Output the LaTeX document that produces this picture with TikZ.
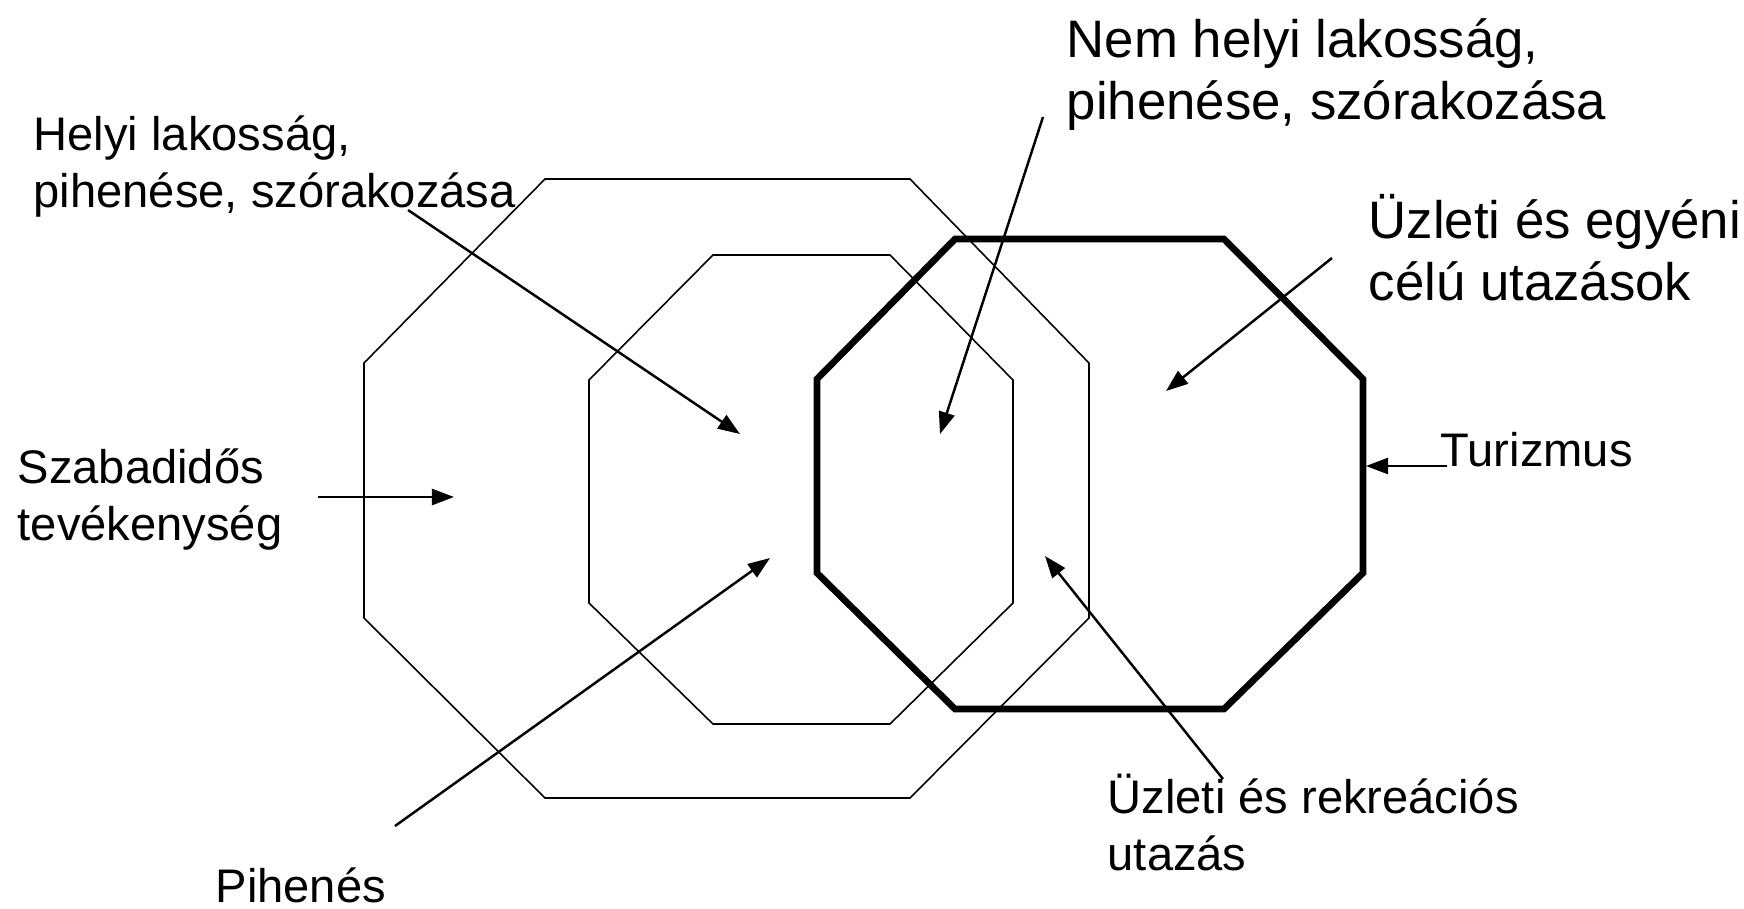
\documentclass[tikz,border=0pt]{standalone}
\usepackage{fontspec}
\setmainfont{Liberation Sans}
\usetikzlibrary{arrows.meta}

\begin{document}
\begin{tikzpicture}[x=0.01cm, y=-0.01cm, >={Triangle[length=0.22cm,width=0.16cm]},
  thin line/.style={line width=0.45pt},
  arrow line/.style={->, line width=0.7pt},
  big label/.style={anchor=base west, inner sep=0pt, align=left,
    font=\fontsize{15pt}{17.6pt}\selectfont},
  small label/.style={anchor=base west, inner sep=0pt, align=left,
    font=\fontsize{13.4pt}{16.2pt}\selectfont}]
\useasboundingbox (0,0) rectangle (1744,908);

% outer octagon (leisure)
\draw[thin line] (545,179) -- (910,179) -- (1089,363) -- (1089,618) -- (910,798)
  -- (545,798) -- (364,618) -- (364,363) -- cycle;

% inner octagon (recreation)
\draw[thin line] (713,255) -- (890,255) -- (1013,380) -- (1013,603) -- (890,724)
  -- (713,724) -- (589,603) -- (589,380) -- cycle;

% tourism, thick
\draw[line width=1.9pt] (955,239) -- (1224,239) -- (1363,379) -- (1363,573) -- (1224,709)
  -- (955,709) -- (817,573) -- (817,379) -- cycle;

% ---- labels (base = last line) ----
\node[small label] (helyi) at (33,207) {Helyi lakosság,\\pihenése, szórakozása};
\node[big label] (nemhelyi) at (1066,119) {Nem helyi lakosság,\\pihenése, szórakozása};
\node[big label] (egyeni) at (1368,300) {Üzleti és egyéni\\célú utazások};
\node[small label] (turizmus) at (1440,466) {Turizmus};
\node[small label] (szabadido) at (17,540) {Szabadidős\\tevékenység};
\node[small label] (rekreacios) at (1107,870) {Üzleti és rekreációs\\utazás};
\node[small label] (pihenes) at (215,902) {Pihenés};

% ---- arrow ends ----
\coordinate (helyi-a) at (408,210);      \coordinate (helyi-b) at (740,434);
\coordinate (nemhelyi-a) at (1043,117);  \coordinate (nemhelyi-b) at (940,434);
\coordinate (egyeni-a) at (1332,258);    \coordinate (egyeni-b) at (1166,391);
\coordinate (turizmus-a) at (1447,466);  \coordinate (turizmus-b) at (1366,466);
\coordinate (szabadido-a) at (318,497);  \coordinate (szabadido-b) at (454,497);
\coordinate (pihenes-a) at (395,826);    \coordinate (pihenes-b) at (770,558);
\coordinate (rekreacios-a) at (1223,779); \coordinate (rekreacios-b) at (1045,556);

\draw[arrow line] (helyi-a) -- (helyi-b);
\draw[arrow line] (nemhelyi-a) -- (nemhelyi-b);
\draw[arrow line] (egyeni-a) -- (egyeni-b);
\draw[arrow line] (turizmus-a) -- (turizmus-b);
\draw[arrow line] (szabadido-a) -- (szabadido-b);
\draw[arrow line] (pihenes-a) -- (pihenes-b);
\draw[arrow line] (rekreacios-a) -- (rekreacios-b);

\end{tikzpicture}
\end{document}
